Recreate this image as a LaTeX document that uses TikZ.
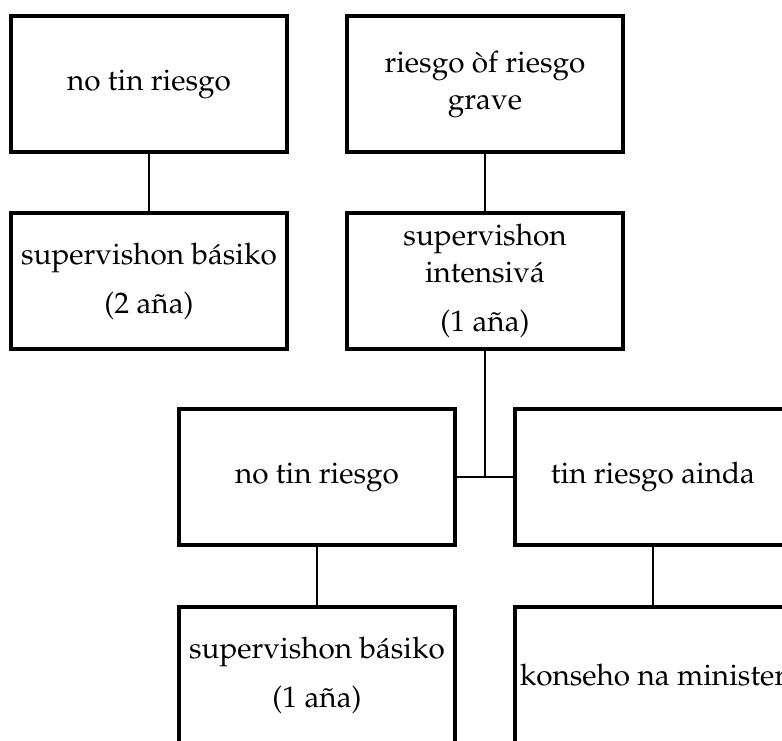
\documentclass[tikz,border=0pt]{standalone}
\usepackage[T1]{fontenc}
\usepackage{mathpazo}
\usepackage{tikz}
\usetikzlibrary{positioning}
\tikzstyle{box_style}=[draw, line width=4pt, anchor=center, text centered, align=center,
inner sep=2pt, minimum width=276pt, minimum height=136pt, font=\fontsize{29.7pt}{37pt}\selectfont]
\tikzstyle{link}=[line width=2.4pt]

\begin{document}
\begin{tikzpicture}
		\useasboundingbox (0,0) rectangle (782pt,-740pt) ;
		\clip (0,0) rectangle (782pt,-740pt) ;

		% left branch
		\node[box_style] (A) at (149pt,-84pt) {no tin riesgo} ;

		\node[box_style, below=57pt of A] (C) {supervishon básiko\\[12pt](2 aña)} ;
		\draw[link] (A) -- (C) ;

		% right branch
		\node[box_style, right=56pt of A] (B) {riesgo òf riesgo\\grave} ;

		\node[box_style, below=57pt of B] (D) {supervishon\\intensivá\\[12pt](1 aña)} ;
		\draw[link] (B) -- (D) ;

		\node[box_style, below=56pt of D, xshift=-168pt] (E) {no tin riesgo} ;
		\node[box_style, right=56pt of E] (F) {tin riesgo ainda} ;
		\coordinate (J) at (D.south |- E.east) ;
		\draw[link] (D) -- (J) ;
		\draw[link] (E) -- (F) ;

		\node[box_style, below=58pt of E] (G) {supervishon básiko\\[12pt](1 aña)} ;
		\draw[link] (E) -- (G) ;

		\node[box_style, below=58pt of F] (H) {konseho na minister} ;
		\draw[link] (F) -- (H) ;

	\end{tikzpicture}
\end{document}
